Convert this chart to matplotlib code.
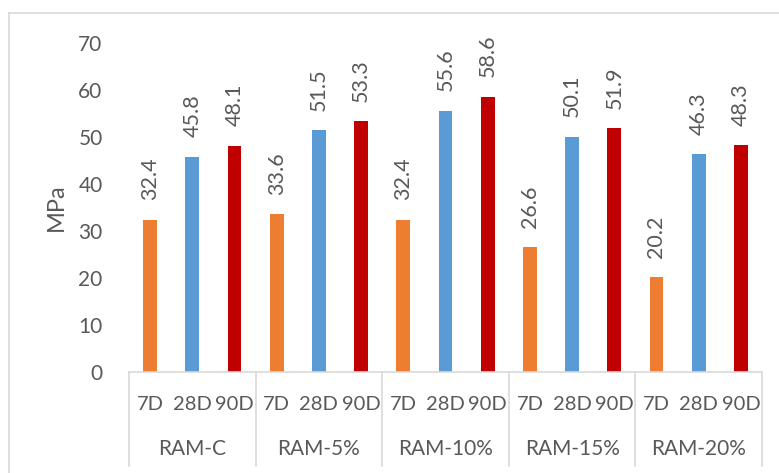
import matplotlib.pyplot as plt
import numpy as np

plt.rcParams['font.family'] = ['Lato', 'DejaVu Sans']

# compressive strength by mix and curing age
mixes = ["RAM-C", "RAM-5%", "RAM-10%", "RAM-15%", "RAM-20%"]
ages = ["7D", "28D", "90D"]
d7 = [32.4, 33.6, 32.4, 26.6, 20.2]
d28 = [45.8, 51.5, 55.6, 50.1, 46.3]
d90 = [48.1, 53.3, 58.6, 51.9, 48.3]
colors = ["#ED7D31", "#5B9BD5", "#C00000"]

txt = "#595959"
grid = "#D9D9D9"

fig = plt.figure(figsize=(7.79, 4.73), dpi=100)
ax = fig.add_axes([129/779, 101/473, 633/779, 329/473])

# outer chart frame (only top and left edges visible)
fig.add_artist(plt.Line2D([9/779, 1], [1-13/473, 1-13/473], color=grid, lw=1.2, transform=fig.transFigure))
fig.add_artist(plt.Line2D([9/779, 9/779], [0, 1-13/473], color=grid, lw=1.2, transform=fig.transFigure))

series = [d7, d28, d90]
for j, vals in enumerate(series):
    xs = np.arange(len(mixes)) * 3 + j
    ax.bar(xs, vals, width=0.33, color=colors[j], zorder=2)
    for x, v in zip(xs, vals):
        ax.annotate(f"{v:.1f}", (x, v), xytext=(0, 14), textcoords="offset points",
                    rotation=90, ha="center", va="bottom", fontsize=15.5, color=txt)

ax.set_xlim(-0.5, len(mixes) * 3 - 0.5)
ax.set_ylim(0, 70)
ax.set_yticks(range(0, 71, 10))
ax.tick_params(axis="y", length=0, labelsize=15, labelcolor=txt, pad=19)
ax.set_xticks([])
for s in ["top", "right", "left"]:
    ax.spines[s].set_visible(False)
ax.spines["bottom"].set_color(grid)
ax.spines["bottom"].set_linewidth(1.2)
ax.set_ylabel("MPa", fontsize=17, color=txt, labelpad=8)

# two-level category axis
trans = ax.get_xaxis_transform()
for i, m in enumerate(mixes):
    for j, a in enumerate(ages):
        ax.text(i * 3 + j, -0.10, a, transform=trans, ha="center", va="center",
                fontsize=14.5, color=txt)
    ax.text(i * 3 + 1, -0.235, m, transform=trans, ha="center", va="center",
            fontsize=15, color=txt)
for k in range(len(mixes) + 1):
    ax.plot([k * 3 - 0.5, k * 3 - 0.5], [0, -0.285], transform=trans, color=grid,
            lw=1.2, clip_on=False)

fig.savefig("out.png", dpi=100)
